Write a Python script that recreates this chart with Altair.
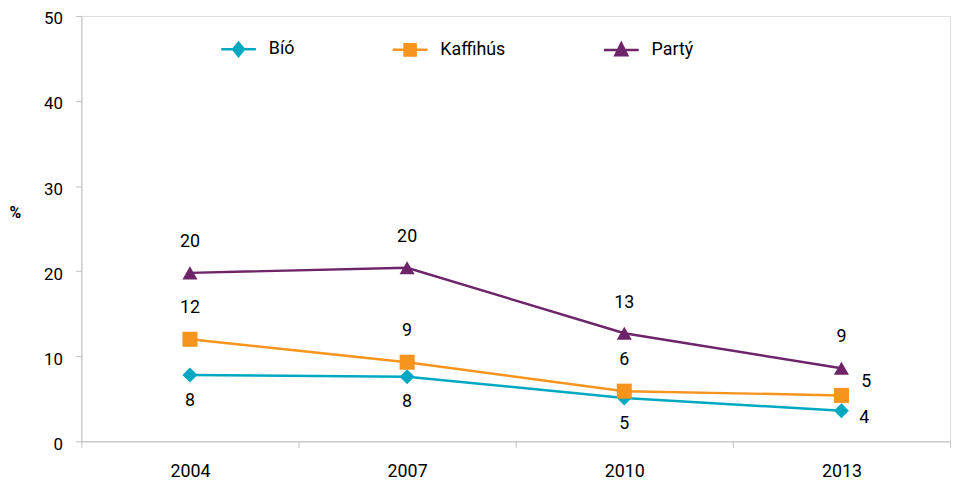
import altair as alt
import pandas as pd

years = ["2004", "2007", "2010", "2013"]
series_names = ["Bíó", "Kaffihús", "Partý"]
bio = [7.8, 7.6, 5.1, 3.6]
kaffi = [12.0, 9.3, 5.9, 5.4]
party = [19.8, 20.4, 12.7, 8.6]
colors = ["#00A9C1", "#F7941D", "#6D2468"]
y_ticks = [0, 10, 20, 30, 40, 50]

rows = []
for name, vals in zip(series_names, [bio, kaffi, party]):
    for yr, v in zip(years, vals):
        rows.append({"year": yr, "series": name, "value": v})
df = pd.DataFrame(rows)

FONT = "Roboto"

legend_paths = [
    "M-1,0H1M0,-0.38L0.31,0L0,0.38L-0.31,0Z",
    "M-1,0H1M-0.32,-0.32H0.32V0.32H-0.32Z",
    "M-1,0H1M0,-0.38L0.34,0.31L-0.34,0.31Z",
]

x_enc = alt.X(
    "year:O",
    sort=years,
    scale=alt.Scale(type="band", paddingInner=0, paddingOuter=0),
    axis=alt.Axis(
        title=None, labelAngle=0, tickBand="extent", tickSize=6,
        labelPadding=15, labelFontSize=18, labelFont=FONT, labelColor="#000000",
        domainColor="#BFBFBF", tickColor="#BFBFBF", grid=False,
    ),
)
y_enc = alt.Y(
    "value:Q",
    scale=alt.Scale(domain=[0, 50], nice=False, zero=True),
    axis=alt.Axis(
        values=y_ticks, title="%", titleAngle=0, titleX=-67, titleY=198,
        titleAlign="center", titleBaseline="middle", titleFontSize=16,
        titleFontWeight="bold", titleFont=FONT, titleColor="#000000",
        tickSize=6, labelPadding=13, labelOffset=3, labelFontSize=17, labelFont=FONT,
        labelColor="#000000", domainColor="#BFBFBF", tickColor="#BFBFBF",
        grid=False,
    ),
)

color_scale = alt.Scale(domain=series_names, range=colors)

base = alt.Chart(df)

lines = base.mark_line(strokeWidth=2.5).encode(
    x=x_enc, y=y_enc,
    color=alt.Color("series:N", sort=series_names, scale=color_scale, legend=None),
)

points = base.mark_point(filled=True, opacity=1, size=230).encode(
    x=x_enc, y=y_enc,
    color=alt.Color("series:N", sort=series_names, scale=color_scale, legend=None),
    shape=alt.Shape(
        "series:N", sort=series_names,
        scale=alt.Scale(domain=series_names, range=["diamond", "square", "triangle-up"]),
        legend=None,
    ),
)

def labels(filter_expr, dx, dy):
    return base.transform_filter(filter_expr).mark_text(
        dx=dx, dy=dy, fontSize=18, font=FONT, color="#000000",
        align="center", baseline="middle",
    ).encode(x=x_enc, y=y_enc, text=alt.Text("value:Q", format=".0f"))

lab_party = labels("datum.series === 'Partý'", 0, -31)
lab_kaffi = labels("datum.series === 'Kaffihús' && datum.year !== '2013'", 0, -31)
lab_kaffi_last = labels("datum.series === 'Kaffihús' && datum.year === '2013'", 25, -13)
lab_bio = labels("datum.series === 'Bíó' && datum.year !== '2013'", 0, 26)
lab_bio_last = labels("datum.series === 'Bíó' && datum.year === '2013'", 23, 7)

main = alt.layer(lines, points, lab_party, lab_kaffi, lab_kaffi_last, lab_bio, lab_bio_last)

leg = dict(
    title=None, orient="none", legendX=139.5, legendY=14.5,
    direction="horizontal", columns=3, columnPadding=93,
    symbolSize=1225, symbolStrokeWidth=2.5, symbolOpacity=1,
    labelOffset=11.5, labelFontSize=18, labelFont=FONT,
    labelColor="#000000", padding=0,
)

legend_layer = base.transform_filter("false").mark_point(
    filled=True, strokeWidth=2.5, opacity=1
).encode(
    x=x_enc, y=y_enc,
    color=alt.Color("series:N", sort=series_names, scale=color_scale, legend=alt.Legend(**leg)),
    stroke=alt.Stroke("series:N", sort=series_names, scale=color_scale, legend=alt.Legend(**leg)),
    shape=alt.Shape(
        "series:N", sort=series_names,
        scale=alt.Scale(domain=series_names, range=legend_paths),
        legend=alt.Legend(**leg),
    ),
)

chart = alt.layer(main, legend_layer).resolve_scale(
    color="independent", shape="independent", stroke="independent"
).properties(
    width=876, height=429,
    autosize=alt.AutoSizeParams(type="none"),
    padding={"left": 74, "top": 6, "right": 3, "bottom": 40},
).configure_view(stroke=None).configure(background="#FFFFFF")

chart.save("out.html", embed_options={"renderer": "svg", "actions": False})
